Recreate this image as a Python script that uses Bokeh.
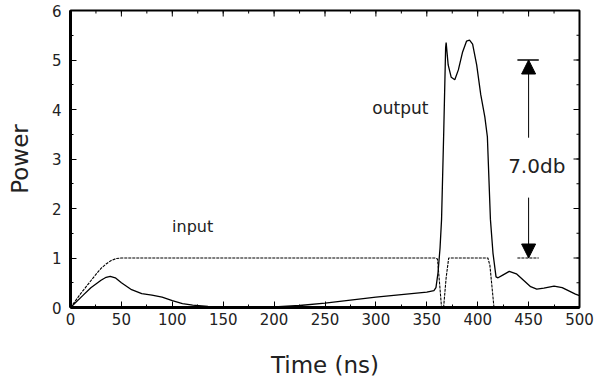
import numpy as np
from bokeh.plotting import figure
from bokeh.models import Range1d, SingleIntervalTicker, Label, Arrow, NormalHead
from bokeh.embed import file_html
from bokeh.resources import INLINE

# ---- data ----
input_t = [0, 5, 10, 15, 20, 25, 30, 35, 40, 45, 50, 358, 360.5, 362.5,
           364.5, 366.5, 369, 371.5, 410, 412, 416]
input_p = [0, 0.14, 0.28, 0.41, 0.54, 0.67, 0.79, 0.88, 0.95, 0.99, 1.0,
           1.0, 0.98, 0.5, 0.0, 0.0, 0.6, 1.0, 1.0, 0.85, 0.0]

output_t = [0, 5, 10, 13, 20, 30, 35, 39, 44, 50, 60, 70, 80, 90, 100, 110,
            120, 135, 150, 175, 200, 225, 250, 275, 300, 325, 350, 357, 359,
            361, 363, 364.5, 366.7, 368.5, 369, 371, 374, 377.5, 381, 385,
            389, 392, 395, 399, 403, 407, 409.5, 412.5, 415, 418, 420, 425,
            431, 438, 445, 452, 458, 465, 475, 483, 490, 496, 500]
output_p = [0, 0.1, 0.2, 0.26, 0.4, 0.55, 0.61, 0.63, 0.6, 0.5, 0.36, 0.28,
            0.25, 0.21, 0.14, 0.08, 0.05, 0.02, 0.01, 0.0, 0.01, 0.04, 0.09,
            0.15, 0.21, 0.26, 0.31, 0.34, 0.4, 0.7, 1.2, 1.78, 3.6, 5.25,
            5.35, 4.9, 4.65, 4.6, 4.8, 5.15, 5.38, 5.4, 5.32, 4.9, 4.3, 3.85,
            3.45, 1.78, 1.1, 0.62, 0.6, 0.66, 0.73, 0.68, 0.55, 0.42, 0.37,
            0.39, 0.43, 0.4, 0.33, 0.27, 0.24]

x_min, x_max, x_step = 0, 500, 50
y_min, y_max, y_step = 0, 6, 1

# gain marker (7.0 dB between output peak level and input level)
gain_x = 450
gain_high = 5.0
gain_low = 1.0
gain_arrow_top_start = 3.43
gain_arrow_bot_start = 2.22
bar_x0, bar_x1 = 439, 460
gain_text = "7.0db"

FONT = "DejaVu Sans"
TXT = "#222222"
FW, FH = 509, 297

p = figure(frame_width=FW, frame_height=FH, output_backend="svg",
           toolbar_location=None, min_border_left=70, min_border_right=21,
           min_border_top=10, min_border_bottom=0,
           x_range=Range1d(x_min, x_max), y_range=Range1d(y_min, y_max))
p.background_fill_color = "white"
p.border_fill_color = "white"
p.outline_line_color = "black"
p.outline_line_width = 2
p.xgrid.visible = False
p.ygrid.visible = False

p.xaxis.ticker = SingleIntervalTicker(interval=x_step, num_minor_ticks=2)
p.yaxis.ticker = SingleIntervalTicker(interval=y_step, num_minor_ticks=2)

for ax in (p.xaxis[0], p.yaxis[0]):
    ax.axis_line_width = 3
    ax.axis_line_color = "black"
    ax.major_tick_in = 6
    ax.major_tick_out = 0
    ax.minor_tick_in = 3
    ax.minor_tick_out = 0
    ax.major_tick_line_color = "black"
    ax.minor_tick_line_color = "black"
    ax.major_label_text_font = FONT
    ax.major_label_text_font_size = "15px"
    ax.major_label_text_color = TXT
    ax.axis_label_text_font = FONT
    ax.axis_label_text_font_size = "23px"
    ax.axis_label_text_font_style = "normal"
    ax.axis_label_text_color = TXT

p.xaxis.axis_label = "Time (ns)"
p.yaxis.axis_label = "Power"
p.xaxis.major_label_standoff = 5
p.xaxis.axis_label_standoff = 24
p.yaxis.major_label_standoff = 9
p.yaxis.axis_label_standoff = 16

# inward ticks on top and right frame edges (6 px major, 3 px minor)
xs_major = np.arange(x_min, x_max + 1e-9, x_step)
xs_minor = np.arange(x_min, x_max + 1e-9, x_step / 2)
ys_major = np.arange(y_min, y_max + 1e-9, y_step)
ys_minor = np.arange(y_min, y_max + 1e-9, y_step / 2)
dy_px = (y_max - y_min) / FH
dx_px = (x_max - x_min) / FW
p.segment(x0=xs_minor, y0=y_max, x1=xs_minor, y1=y_max - 3 * dy_px,
          line_color="black", line_width=1)
p.segment(x0=xs_major, y0=y_max, x1=xs_major, y1=y_max - 6 * dy_px,
          line_color="black", line_width=1)
p.segment(x0=x_max, y0=ys_minor, x1=x_max - 3 * dx_px, y1=ys_minor,
          line_color="black", line_width=1)
p.segment(x0=x_max, y0=ys_major, x1=x_max - 6 * dx_px, y1=ys_major,
          line_color="black", line_width=1)

p.line(input_t, input_p, line_color="black", line_width=1.1, line_dash="3 1")
p.line(output_t, output_p, line_color="black", line_width=1.3)

# gain marker
p.add_layout(Arrow(x_start=gain_x, y_start=gain_arrow_top_start, x_end=gain_x,
                   y_end=gain_high, line_width=1,
                   end=NormalHead(size=14, fill_color="black", line_color="black")))
p.add_layout(Arrow(x_start=gain_x, y_start=gain_arrow_bot_start, x_end=gain_x,
                   y_end=gain_low, line_width=1,
                   end=NormalHead(size=14, fill_color="black", line_color="black")))
p.segment(x0=[bar_x0], y0=[gain_high], x1=[bar_x1], y1=[gain_high],
          line_color="black", line_width=1.3)
p.segment(x0=[bar_x0], y0=[gain_low], x1=[bar_x1], y1=[gain_low],
          line_color="black", line_width=1.1, line_dash="3 1")

p.add_layout(Label(x=458, y=2.85, text=gain_text, text_font=FONT,
                   text_font_size="20px", text_color=TXT,
                   text_align="center", text_baseline="middle"))
p.add_layout(Label(x=324, y=4.04, text="output", text_font=FONT,
                   text_font_size="17px", text_color=TXT,
                   text_align="center", text_baseline="middle"))
p.add_layout(Label(x=120, y=1.64, text="input", text_font=FONT,
                   text_font_size="16px", text_color=TXT,
                   text_align="center", text_baseline="middle"))

open("out.html", "w").write(file_html(p, INLINE))
